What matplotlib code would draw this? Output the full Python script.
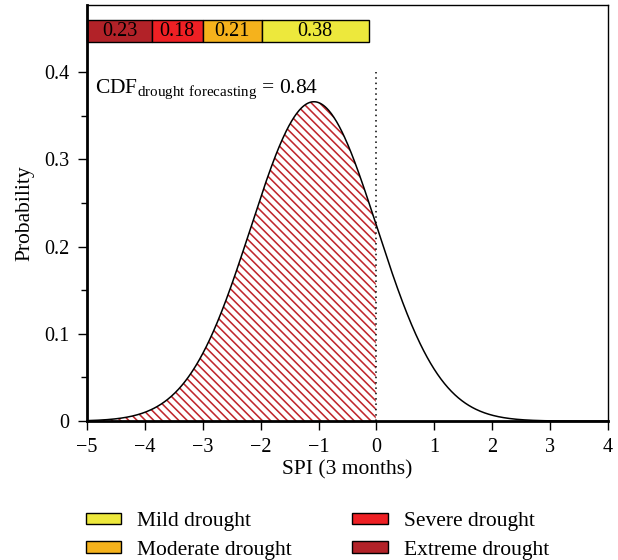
import matplotlib
matplotlib.use("Agg")
import matplotlib.pyplot as plt
import matplotlib.patches as mpatches
import numpy as np

plt.rcParams['font.family'] = ['Liberation Serif', 'DejaVu Serif']
plt.rcParams['mathtext.fontset'] = 'custom'
plt.rcParams['mathtext.rm'] = 'Liberation Serif'
plt.rcParams['hatch.linewidth'] = 1.15

# fitted normal distribution of SPI (3 months)
spi_mean = -1.08
spi_std = 1.09
cdf_value = 0.84

# class probabilities shown in the top bar
classes = ['Extreme drought', 'Severe drought', 'Moderate drought', 'Mild drought']
class_probs = [0.23, 0.18, 0.21, 0.38]
class_colors = ['#b22228', '#ee2024', '#f5b21c', '#ede83c']

legend_order = ['Mild drought', 'Moderate drought', 'Severe drought', 'Extreme drought']

x = np.linspace(-5, 4, 600)
pdf = np.exp(-0.5 * ((x - spi_mean) / spi_std) ** 2) / (spi_std * np.sqrt(2 * np.pi))

fig = plt.figure(figsize=(6.18, 5.6), dpi=100)
ax = fig.add_axes([0.1408, 0.248, 0.843, 0.743])

mask = x <= 0
ax.fill_between(x[mask], 0, pdf[mask], facecolor='none', edgecolor='#c0272d',
                hatch=chr(92) * 4, linewidth=0)
ax.plot(x, pdf, color='black', lw=1.1)
ax.plot([0, 0], [0, 0.4], color='black', ls=(0, (1, 2.5)), lw=1.1)

ax.text(-4.87, 0.376, r'CDF$_{\mathrm{drought\ forecasting}}$ = %.2f' % cdf_value, fontsize=15.5)

# probability bar across the top (axes-fraction x, data y)
bar_scale = 0.541
left = 0.0
tr = ax.get_yaxis_transform()
for p, c in zip(class_probs, class_colors):
    ax.add_patch(mpatches.Rectangle((left, 0.434), p * bar_scale, 0.0256, transform=tr,
                                    facecolor=c, edgecolor='black', lw=1, clip_on=False))
    ax.text(left + p * bar_scale / 2, 0.4462, '%.2f' % p, transform=tr,
            ha='center', va='center', fontsize=14.5)
    left += p * bar_scale

ax.set_xlim(-5, 4)
ax.set_ylim(0, 0.4768)
ax.set_xticks(range(-5, 5))
ax.set_xticklabels(['\u22125', '\u22124', '\u22123', '\u22122', '\u22121', '0', '1', '2', '3', '4'])
ax.set_yticks([0, 0.1, 0.2, 0.3, 0.4])
ax.set_yticklabels(['0', '0.1', '0.2', '0.3', '0.4'])
ax.set_yticks(np.arange(0.05, 0.4, 0.1), minor=True)
ax.tick_params(axis='both', direction='out', length=6.5, width=1, labelsize=14.5)
ax.tick_params(axis='y', which='minor', direction='out', length=4, width=1)
ax.tick_params(axis='x', pad=6)
ax.tick_params(axis='y', pad=6)
for s in ['left', 'bottom']:
    ax.spines[s].set_linewidth(2)
for s in ['top', 'right']:
    ax.spines[s].set_linewidth(1)
ax.set_xlabel('SPI (3 months)', fontsize=15.5, labelpad=2)
ax.set_ylabel('Probability', fontsize=15.5, labelpad=7)

handles = [mpatches.Patch(facecolor=class_colors[classes.index(n)], edgecolor='black', lw=1, label=n)
           for n in legend_order]
fig.legend(handles=handles, ncol=2, frameon=False, loc='lower left',
           bbox_to_anchor=(0.107, -0.034), fontsize=15.5, handlelength=1.65,
           handleheight=0.45, handletextpad=0.75, columnspacing=2.8, labelspacing=0.45)

fig.savefig('out.png', dpi=100)
